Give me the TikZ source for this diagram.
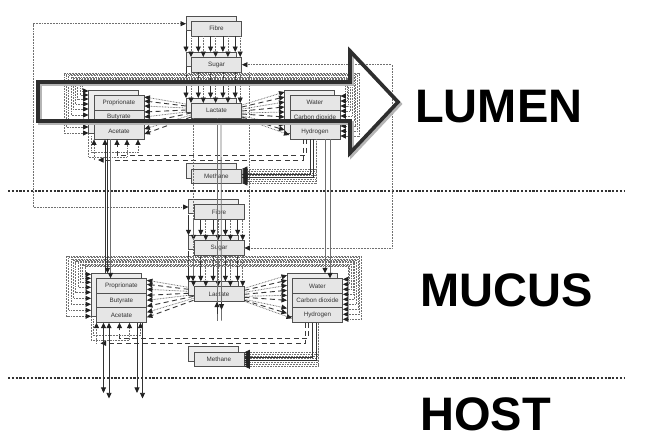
\documentclass[tikz,border=0pt]{standalone}
\usepackage{fontspec}
\setmainfont{Liberation Sans}
\usetikzlibrary{arrows.meta,calc}
\definecolor{boxfill}{HTML}{E6E6E6}
\definecolor{backfill}{HTML}{EDEDED}
\definecolor{boxline}{HTML}{505050}
\definecolor{txtc}{HTML}{333333}
\definecolor{tipc}{HTML}{222222}
\definecolor{dotc}{HTML}{707070}
\definecolor{dashc}{HTML}{3A3A3A}
\definecolor{solc}{HTML}{333333}
\definecolor{shadec}{HTML}{B5B5B5}
\definecolor{bigc}{HTML}{2E2E2E}
\tikzset{
  box/.style={draw=boxline, fill=boxfill, line width=0.9pt, minimum width=50pt,
    minimum height=14.5pt, inner sep=0pt, anchor=north west,
    font=\fontsize{6.3}{7}\selectfont, text=txtc},
  backbox/.style={draw=boxline, fill=backfill, line width=0.9pt},
  dotl/.style={draw=dotc, line width=0.75pt, dash pattern=on 0.75pt off 0.8pt},
  dashl/.style={draw=dashc, line width=0.9pt, dash pattern=on 5pt off 3.5pt},
  soll/.style={draw=solc, line width=0.8pt},
  grayl/.style={draw=dotc, line width=0.8pt},
  sepline/.style={draw=txtc, line width=2.2pt, dash pattern=on 2.2pt off 1.6pt},
  region/.style={font=\fontsize{47}{50}\selectfont\bfseries, text=black,
    inner sep=0pt, anchor=base west},
  bigarrow/.style={draw=bigc, line width=3.6pt, line join=miter},
  bigshade/.style={draw=shadec, line width=3.6pt, line join=miter},
}
\newcommand\compart[1]{%
  \draw[backbox] (186,16) rectangle ++(50,14.5);
  \draw[backbox] (186,52) rectangle ++(50,14.5);
  \draw[backbox] (186,98) rectangle ++(50,14.5);
  \draw[backbox] (186,163.5) rectangle ++(50,14.5);
  \draw[backbox] (88.5,90) rectangle ++(50,43.5);
  \draw[backbox] (284.5,90) rectangle ++(50,43.5);
  \node[box] (#1fib) at (191,21) {Fibre};
  \node[box] (#1sug) at (191,57) {Sugar};
  \node[box] (#1lac) at (191,103) {Lactate};
  \node[box] (#1met) at (191,168.5) {Methane};
  \node[box] (#1pro) at (93.5,95) {Proprionate};
  \node[box] (#1but) at (93.5,109.5) {Butyrate};
  \node[box] (#1ace) at (93.5,124) {Acetate};
  \node[box] (#1wat) at (289.5,95) {Water};
  \node[box] (#1cod) at (289.5,109.5) {Carbon dioxide};
  \node[box] (#1hyd) at (289.5,124) {Hydrogen};
  % fibre -> sugar, sugar -> lactate
  \draw[soll,->] ($(#1fib.south west)+(-5,-5)$) -- ($(#1sug.north west)+(-5,-5)$);
  \draw[soll,->] ($(#1sug.south west)+(-5,-5)$) -- ($(#1lac.north west)+(-5,-5)$);
  \foreach \i in {1,...,4}{
    \draw[soll,->] ($(#1fib.south west)+({12.3*\i-5},0)$) -- ($(#1sug.north west)+({12.3*\i-5},-5)$);
    \draw[soll,->] ($(#1sug.south west)+({12.3*\i-5},0)$) -- ($(#1lac.north west)+({12.3*\i-5},-5)$);
  }
  \foreach \i in {0,...,4}{
    \draw[dotl,->] ($(#1fib.south west)+({12.3*\i},0)$) -- ($(#1sug.north west)+({12.3*\i},0)$);
    \draw[dotl,->] ($(#1sug.south west)+({12.3*\i},0)$) -- ($(#1lac.north west)+({12.3*\i},0)$);
  }
  % lactate fans
  \foreach \sx/\sy/\ty in {-5/1/2,-5/5/11,-5/9/22,0/12/34}{
    \draw[dotl,->] ($(#1lac.north west)+(\sx,\sy)$) -- ($(#1pro.north east)+(0,\ty)$);
  }
  \foreach \sx/\sy/\ty in {-5/3/6,-5/7/17,0/10/28,0/14/39}{
    \draw[dashl,->] ($(#1lac.north west)+(\sx,\sy)$) -- ($(#1pro.north east)+(0,\ty)$);
  }
  \foreach \sy/\tx/\ty in {2/-5/-3,6/-5/7,10/-5/17,13/-5/30,15/0/40}{
    \draw[dotl,->] ($(#1lac.north east)+(0,\sy)$) -- ($(#1wat.north west)+(\tx,\ty)$);
  }
  \foreach \sy/\tx/\ty in {4/-5/2,8/-5/12,11/-5/22,14/-5/35}{
    \draw[dashl,->] ($(#1lac.north east)+(0,\sy)$) -- ($(#1wat.north west)+(\tx,\ty)$);
  }
  % loops between the two groups
  \foreach \k/\ly/\ry in {0/133/136,1/127/131,2/121/126,3/115/121,4/109/116,5/104/111,6/99/106,7/95/101,8/91/96}{
    \draw[dotl,<->] ($(#1pro.north west)+(-5,{\ly-95})$) -| ({64+2.3*\k},{73+1.3*\k})
      -| ({359-1.7*\k},\ry) -- ($(#1wat.north east)+(0,{\ry-95})$);
  }
  % hydrogen -> acetate (dashed) and bottom bracket
  \coordinate (#1hbend) at (98,160);
  \draw[dashl,->] ($(#1hyd.south west)+(16.5,0)$) |- (117,155) -- ($(#1ace.south west)+(23.5,0)$);
  \draw[dashl,->] ($(#1hyd.south west)+(13.5,0)$) |- (#1hbend);
  \draw[dotl,->] (88.5,134) |- (127,157) -- ($(#1ace.south west)+(33.5,0)$);
  \draw[dotl,->] (91,136) |- (138,152.5) -- ($(#1ace.south west)+(44.5,0)$);
  \draw[dotl,->] (94,160) -- ($(#1ace.south west)+(0.5,0)$);
  % hydrogen -> methane
  \foreach \k in {0,...,7}{
    \draw[dotl,->] ($(#1hyd.south west)+(26.5,0)$) |- ($(#1met.north east)+(0,{0.5+2*\k})$);
  }
  \draw[soll,->] ($(#1hyd.south west)+(20.5,0)$) |- ($(#1met.north east)+(0,6)$);
  \draw[soll,->] ($(#1hyd.south west)+(24,0)$) |- ($(#1met.north east)+(0,9)$);
}
\begin{document}
\begin{tikzpicture}[x=1pt,y=-1pt,>={Triangle[length=5.5pt,width=5pt,color=tipc]}]
\fill[white] (0,0) rectangle (652,447);
\useasboundingbox (0,0) rectangle (652,447);
% separators
\draw[sepline] (8,191) -- (625,191);
\draw[sepline] (8,378) -- (625,378);
% compartments
\compart{L}
\begin{scope}[shift={(2.5,183.3)}]
\compart{M}
\end{scope}
% cross-compartment connectors
\draw[dotl,<->] ($(Lfib.west)+(-5,-5)$) -| (33,120) |- ($(Mfib.west)+(-5,-5)$);
\draw[dotl,->] (Msug.east) -| (392,150) |- (Lsug.east);
\draw[dotl,->] ($(Lsug.south east)+(7,0)$) |- (Msug.east);
\draw[dotl,->] ($(Llac.south west)+(2,0)$) -- ($(Mlac.north west)+(-0.5,-5)$);
\coordinate (lacendA) at ($(Mlac.south west)+(23.5,19)$);
\coordinate (lacendB) at ($(Mlac.south west)+(28,19)$);
\draw[grayl] ($(Llac.south west)+(26,0)$) -- (lacendA);
\draw[grayl] ($(Llac.south west)+(30,0)$) -- (lacendB);
\draw[soll,->] ($(Mlac.south west)+(23.5,12)$) -- ($(Mlac.south west)+(23.5,0)$);
\draw[soll,->] ($(Mlac.south west)+(28,0)$) -- ($(Mlac.south west)+(28,8)$);
\draw[soll,->] ($(Mpro.north west)+(9,-5)$) -- ($(Lace.south west)+(11.5,0)$);
\draw[soll,->] ($(Lace.south west)+(14,0)$) -- ($(Mpro.north west)+(11.5,-5)$);
\draw[grayl,->] ($(Lace.south west)+(17,0)$) -- ($(Mpro.north west)+(14.5,0)$);
\draw[grayl,->] ($(Lhyd.south west)+(35.5,0)$) -- ($(Mwat.north west)+(33,-5)$);
\draw[grayl,->] ($(Lhyd.south west)+(40.5,0)$) -- ($(Mwat.north west)+(38,0)$);
\coordinate (hostA) at ($(Mace.south west)+(7.5,70.2)$);
\coordinate (hostB) at ($(Mace.south west)+(13,75.7)$);
\coordinate (hostC) at ($(Mace.south west)+(41,70.2)$);
\coordinate (hostD) at ($(Mace.south west)+(46.5,75.7)$);
\draw[soll,<->] ($(Mace.south west)+(7.5,0)$) -- (hostA);
\draw[soll,<->] ($(Mace.south west)+(13,0)$) -- (hostB);
\draw[soll,->] ($(Mace.south west)+(41,0)$) -- (hostC);
\draw[soll,->] ($(Mace.south west)+(46.5,0)$) -- (hostD);
% big arrow
\draw[bigshade] (40,84) -- (352,84) -- (352,53) -- (400,104) -- (352,155) -- (352,123) -- (40,123) -- cycle;
\draw[bigarrow] (38,82) -- (350,82) -- (350,51) -- (398,102) -- (350,153) -- (350,121) -- (38,121) -- cycle;
% labels
\node[region] (lumen) at (415,122) {LUMEN};
\node[region] (mucus) at (420,306.8) {MUCUS};
\node[region] (host) at (420,430.4) {HOST};
\end{tikzpicture}
\end{document}
